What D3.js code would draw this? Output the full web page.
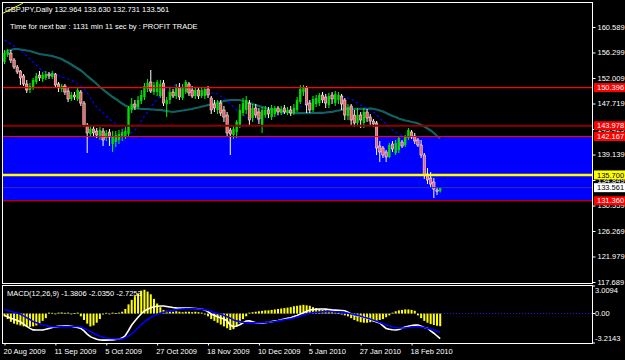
<!DOCTYPE html>
<html>
<head>
<meta charset="utf-8">
<script src="https://cdn.jsdelivr.net/npm/d3@7"></script>
<style>
  html, body { margin: 0; padding: 0; background: #000; }
  svg { display: block; }
  text { font-family: "Liberation Sans", Arial, sans-serif; font-size: 7.5px; fill: #fff; }
</style>
</head>
<body>
<script>
// --- DATA (GBPJPY daily, 20 Aug 2009 .. 3 Mar 2010) ---
const opens = [
  154.70,155.88,156.21,155.04,153.86,153.19,152.35,151.00,149.99,150.33,
  151.34,152.51,151.84,152.01,152.68,152.18,152.68,151.00,150.16,150.66,
  149.82,148.48,149.15,148.48,149.65,147.80,144.10,142.59,143.43,143.09,
  142.08,143.09,141.91,142.92,140.90,141.24,141.58,142.08,142.25,142.59,
  146.63,147.63,147.13,148.14,148.81,150.16,151.34,149.65,149.65,148.98,
  151.17,147.63,148.31,149.65,148.98,150.49,148.64,149.65,151.00,149.99,
  148.98,149.99,148.98,148.98,150.16,148.64,147.63,146.63,147.80,146.63,
  145.78,143.26,142.42,142.92,144.10,146.12,146.63,147.80,145.28,146.96,
  146.29,144.10,145.78,146.63,145.45,145.95,146.96,146.12,146.96,146.12,
  146.63,146.12,146.63,147.97,149.65,150.33,147.80,146.63,147.63,147.80,
  149.15,148.81,147.47,149.15,147.80,148.31,148.98,148.31,145.62,147.30,
  145.78,144.44,145.78,144.44,146.29,145.45,144.77,144.44,140.57,140.23,
  139.56,138.72,140.90,139.39,139.90,141.24,140.74,141.91,142.92,142.25,
  141.58,140.74,139.05,135.86,135.18,134.51,133.17,132.964
];
const highs = [
  156.72,156.89,156.72,155.37,154.20,153.35,152.68,151.67,151.17,152.01,
  152.85,153.19,153.02,153.19,153.02,153.19,152.85,151.34,151.00,151.00,
  150.33,149.65,149.65,150.33,149.99,148.14,144.44,143.93,144.10,143.60,
  143.76,143.60,143.26,143.43,143.09,143.09,143.26,143.43,143.76,147.30,
  148.64,148.31,148.98,149.99,151.17,151.84,153.35,151.34,151.67,151.67,
  151.67,148.81,150.33,150.16,151.00,151.17,151.00,151.67,151.34,150.66,
  150.33,150.49,150.49,150.49,150.66,148.98,148.31,148.31,148.31,147.30,
  146.29,143.60,143.93,144.94,147.63,148.64,148.98,148.31,147.63,147.63,
  146.96,147.13,147.30,147.13,147.47,147.30,147.30,147.30,147.47,147.13,
  147.30,147.63,148.81,150.83,150.83,150.66,148.31,148.98,149.15,149.49,
  149.65,149.32,149.49,149.65,149.82,149.65,149.32,148.64,147.63,147.63,
  146.63,146.96,146.29,146.96,146.79,145.95,145.11,144.77,141.41,140.57,
  139.90,141.07,141.41,141.58,142.25,141.58,142.42,143.60,143.26,142.76,
  141.91,141.58,139.39,136.87,136.19,135.18,133.67,133.630
];
const lows = [
  154.36,155.54,154.53,153.52,152.68,150.83,150.66,149.49,149.49,149.99,
  151.00,151.50,151.34,151.67,151.84,151.84,150.49,149.65,149.65,149.15,
  147.97,148.14,148.31,148.14,147.30,143.76,139.39,142.08,142.25,141.91,
  141.58,140.57,141.41,140.57,139.56,140.40,140.90,141.41,141.75,142.08,
  146.12,146.63,146.79,147.63,148.31,149.65,149.49,149.15,148.98,148.64,
  147.30,145.45,147.63,148.64,148.48,148.31,148.31,149.32,148.98,148.64,
  148.48,148.48,148.64,148.48,148.64,145.95,146.29,145.95,145.62,144.61,
  142.08,139.05,141.75,141.91,143.60,145.62,145.95,144.10,144.61,145.28,
  144.27,142.76,145.28,145.28,144.94,145.45,145.78,145.78,145.95,145.78,
  145.62,145.78,146.29,147.63,148.98,146.12,146.12,146.29,147.13,147.30,
  147.80,146.96,146.96,147.63,147.30,147.63,146.63,144.94,144.94,144.10,
  143.76,143.93,143.60,143.60,144.61,143.93,143.76,139.05,137.88,138.55,
  137.88,138.55,139.56,139.05,139.39,140.23,140.40,141.58,141.75,140.90,
  140.40,138.55,135.02,134.17,133.67,131.82,132.32,132.731
];
const closes = [
  156.21,156.38,155.04,153.86,153.02,152.01,151.00,149.99,150.66,151.67,
  152.35,152.01,152.51,152.68,152.35,152.85,150.83,150.33,150.66,149.65,
  148.48,149.15,148.81,149.99,147.80,144.10,142.76,143.43,142.76,142.42,
  143.26,141.58,142.76,142.08,142.25,142.42,142.59,142.92,143.09,146.96,
  147.63,147.13,148.31,149.15,150.66,151.17,149.82,150.83,151.34,151.00,
  147.80,148.31,149.65,148.98,150.33,148.81,150.33,151.34,149.49,148.98,
  149.99,148.98,149.99,150.16,149.15,146.63,146.96,147.80,146.12,145.45,
  142.76,142.59,143.43,144.61,146.63,147.80,148.31,144.94,146.96,145.78,
  145.11,146.63,146.63,145.95,146.96,146.96,146.29,146.79,146.29,146.63,
  146.12,146.96,148.31,150.16,150.49,147.47,146.63,148.48,148.64,149.15,
  148.31,147.80,148.98,148.48,149.32,149.15,147.63,145.78,147.13,144.94,
  144.44,145.78,144.94,146.29,145.28,144.77,144.27,140.23,139.56,139.05,
  138.72,140.74,140.06,141.07,141.91,140.57,142.08,143.26,142.08,141.41,
  140.74,139.05,135.69,134.85,134.17,133.33,132.96,133.561
];

// slow moving average (solid) and fast moving average (dashed)
const maSlow = [
  156.38,156.55,156.72,156.89,156.89,156.80,156.72,156.63,156.55,156.38,
  156.21,156.05,155.96,155.88,155.79,155.71,155.54,155.37,155.21,154.87,
  154.62,154.28,153.94,153.61,153.27,152.85,152.35,151.92,151.50,151.00,
  150.49,150.07,149.65,149.23,148.81,148.48,148.06,147.72,147.38,147.13,
  146.96,146.88,146.88,146.79,146.79,146.79,146.71,146.71,146.63,146.63,
  146.54,146.46,146.37,146.29,146.37,146.46,146.54,146.63,146.71,146.79,
  146.96,147.04,147.21,147.30,147.47,147.55,147.72,147.89,147.97,148.14,
  148.22,148.31,148.31,148.31,148.31,148.14,147.97,147.80,147.63,147.47,
  147.30,147.13,146.96,146.79,146.71,146.63,146.54,146.46,146.37,146.29,
  146.20,146.12,146.10,146.09,146.09,146.10,146.11,146.12,146.12,146.13,
  146.14,146.20,146.29,146.29,146.46,146.54,146.63,146.79,146.80,146.82,
  146.83,146.83,146.82,146.80,146.79,146.88,146.79,146.71,146.54,146.37,
  146.12,145.87,145.62,145.45,145.20,145.03,144.86,144.77,144.61,144.52,
  144.35,144.10,143.85,143.51,143.18,142.76,142.25,141.83
];
const maFast = [
  158.40,158.07,157.73,157.39,157.06,156.72,156.21,155.71,155.21,154.70,
  154.20,153.69,153.19,153.02,152.85,152.68,152.51,152.35,152.18,152.01,
  151.84,151.67,151.34,151.00,150.66,150.16,149.49,148.64,147.80,147.13,
  146.63,146.12,145.62,145.11,144.61,144.27,143.93,143.60,143.26,142.92,
  142.76,143.26,143.93,144.77,145.62,146.29,147.13,147.80,148.48,149.15,
  149.82,150.16,150.49,150.66,150.83,150.83,150.66,150.33,149.99,149.65,
  149.49,149.32,149.32,149.49,149.49,149.49,149.49,149.32,148.98,148.64,
  148.14,147.63,147.13,146.63,146.12,145.78,145.45,145.28,145.11,144.94,
  144.94,144.94,145.11,145.28,145.45,145.62,145.78,145.95,146.12,146.29,
  146.46,146.63,146.79,147.13,147.47,147.80,148.14,148.31,148.48,148.64,
  148.64,148.81,148.81,148.81,148.98,148.98,148.98,148.81,148.64,148.48,
  148.14,147.80,147.47,147.13,146.96,146.63,146.29,145.78,145.28,144.77,
  144.27,143.76,143.26,142.92,142.59,142.25,141.91,141.75,141.58,141.41,
  141.24,141.07,140.74,140.23,139.73,139.22,138.72,138.21
];

// MACD(12,26,9) sub window
const macdHist = [
  -0.3,-0.6,-0.9,-1.1,-1.2,-1.3,-1.4,-1.45,-1.45,-1.4,-1.3,-1.1,-0.8,-0.5,
  0.1,0.08,-0.06,0.1,0.12,0.08,0.1,-0.05,0.06,0.1,
  -0.3,-0.7,-1.1,-1.4,-1.3,-1.0,-0.6,
  -0.1,0.08,-0.06,0.1,0.05,0.1,
  0.2,0.5,1.0,1.5,1.9,2.2,2.5,2.6,2.4,2.1,1.6,1.1,0.7,0.4,
  0.3,0.25,0.2,0.25,0.2,0.15,0.2,0.2,0.15,0.2,0.15,0.1,
  -0.1,-0.3,-0.6,-0.8,-1.0,-1.2,-1.4,-1.6,-1.8,-1.7,-1.4,-1.0,-0.6,-0.3,
  0.1,0.15,0.2,0.25,0.3,0.35,0.35,0.4,0.45,0.5,0.55,0.6,0.65,0.7,0.8,0.85,0.9,
  0.95,0.9,0.85,0.7,0.6,0.5,0.4,0.35,0.3,0.2,0.1,
  0.05,-0.1,-0.2,
  -0.3,-0.5,-0.7,-0.85,-0.95,-1.0,-1.0,-0.95,-0.9,-0.8,-0.7,-0.6,-0.4,-0.2,
  0.1,0.25,0.35,0.4,0.45,0.45,0.4,0.3,
  -0.2,-0.5,-0.8,-1.0,-1.15,-1.25,-1.33,-1.3806
];
const macdMain = [
  -0.2,-0.35,-0.5,-0.62,-0.76,-0.9,-1.15,-1.4,-1.62,-1.78,
  -1.8,-1.8,-1.79,-1.72,-1.62,-1.53,-1.45,-1.4,-1.36,-1.33,
  -1.33,-1.38,-1.45,-1.52,-1.62,-1.9,-2.25,-2.52,-2.68,-2.8,
  -2.88,-2.9,-2.9,-2.89,-2.88,-2.84,-2.77,-2.68,-2.4,-1.85,
  -1.25,-0.8,-0.4,-0.02,0.28,0.48,0.63,0.74,0.8,0.83,
  0.83,0.78,0.72,0.66,0.62,0.6,0.6,0.61,0.6,0.58,
  0.56,0.53,0.5,0.4,0.2,-0.05,-0.2,-0.35,-0.48,-0.6,
  -0.8,-1.25,-1.43,-1.35,-1.22,-1.0,-0.82,-0.8,-0.9,-1.0,
  -1.03,-1.02,-0.99,-0.95,-0.88,-0.81,-0.75,-0.68,-0.6,-0.52,
  -0.45,-0.33,-0.2,-0.04,0.1,0.25,0.38,0.43,0.47,0.5,
  0.5,0.48,0.44,0.4,0.38,0.36,0.34,0.3,0.15,-0.05,
  -0.18,-0.26,-0.33,-0.4,-0.48,-0.62,-0.78,-0.92,-1.03,-1.35,
  -1.62,-1.72,-1.76,-1.79,-1.74,-1.6,-1.48,-1.38,-1.3,-1.25,
  -1.26,-1.38,-1.52,-1.6,-1.9,-2.15,-2.45,-2.7253
];
const macdSignal = [
  0.45,0.35,0.25,0.15,0.05,-0.08,-0.25,-0.45,-0.65,-0.88,
  -1.0,-1.12,-1.22,-1.3,-1.4,-1.43,-1.44,-1.44,-1.43,-1.43,
  -1.43,-1.42,-1.42,-1.42,-1.45,-1.6,-1.78,-1.95,-2.15,-2.32,
  -2.48,-2.58,-2.66,-2.7,-2.73,-2.76,-2.77,-2.77,-2.65,-2.45,
  -2.2,-1.9,-1.55,-1.2,-0.92,-0.65,-0.42,-0.25,-0.1,0.02,
  0.14,0.2,0.27,0.35,0.42,0.47,0.5,0.52,0.52,0.52,
  0.51,0.5,0.48,0.43,0.35,0.25,0.12,0.02,-0.08,-0.2,
  -0.35,-0.5,-0.7,-0.8,-0.88,-0.95,-1.0,-1.02,-1.02,-1.01,
  -1.0,-0.98,-0.96,-0.93,-0.9,-0.86,-0.8,-0.74,-0.68,-0.62,
  -0.58,-0.48,-0.38,-0.28,-0.15,-0.06,0.03,0.1,0.13,0.16,
  0.18,0.19,0.2,0.2,0.19,0.16,0.13,0.1,0.04,-0.04,
  -0.12,-0.2,-0.3,-0.4,-0.48,-0.6,-0.72,-0.85,-0.98,-1.1,
  -1.22,-1.33,-1.43,-1.52,-1.57,-1.58,-1.56,-1.52,-1.48,-1.44,
  -1.43,-1.46,-1.53,-1.62,-1.7,-1.8,-1.92,-2.035
];

// axes
const priceTicks = [117.689,121.979,126.269,130.559,134.849,139.139,143.429,147.719,152.009,156.299,160.589];
const macdTicks = [3.0094, 0, -3.2143];
const macdTickLabels = ["3.0094", "0.00", "-3.2143"];
const dateTickBars = [0, 16, 32, 48, 64, 80, 96, 112, 128];
const dateTickLabels = ["20 Aug 2009","11 Sep 2009","5 Oct 2009","27 Oct 2009","18 Nov 2009",
                        "10 Dec 2009","5 Jan 2010","27 Jan 2010","18 Feb 2010"];

// objects on the chart
const resistLine = 150.396;
const pivotLine = 143.978;
const zoneTop = 142.167;
const zoneBottom = 131.360;
const targetLine = 135.700;
const bidPrice = 133.561;
const trendPts = [[-0.5, 162.9], [5.8, 164.6]];   // [bar, price]

const titleText = "GBPJPY,Daily  132.964 133.630 132.731 133.561";
const timerText = "Time for next bar : 1131 min 11 sec by  : PROFIT TRADE";
const macdText = "MACD(12,26,9) -1.3806 -2.0350 -2.7253";

// --- LAYOUT ---
const W = 625, H = 360;
const main = { left: 3, right: 592, top: 3, bottom: 283 };
const sub = { top: 286, bottom: 343 };

const svg = d3.select("body").append("svg")
  .attr("width", W).attr("height", H)
  .style("background", "#000");

const x = d3.scaleLinear().domain([0, closes.length - 1]).range([4.5, 440.2]);
const y = d3.scaleLinear().domain([priceTicks[0], priceTicks[priceTicks.length - 1]]).range([282, 27]);
const ym = d3.scaleLinear().domain([macdTicks[2], macdTicks[0]]).range([sub.bottom, sub.top]);

const defs = svg.append("defs");
defs.append("clipPath").attr("id", "clipMain").append("rect")
  .attr("x", main.left).attr("y", main.top)
  .attr("width", main.right - main.left).attr("height", main.bottom - main.top);
defs.append("clipPath").attr("id", "clipSub").append("rect")
  .attr("x", main.left).attr("y", sub.top)
  .attr("width", main.right - main.left).attr("height", sub.bottom - sub.top);

const g = svg.append("g").attr("clip-path", "url(#clipMain)");

// zone rectangle (background object)
g.append("rect")
  .attr("x", main.left).attr("width", main.right - main.left)
  .attr("y", y(zoneTop)).attr("height", y(zoneBottom) - y(zoneTop))
  .attr("fill", "#0000ff");

// moving averages
const line = d3.line().x((d, i) => x(i)).y(d => y(d));
g.append("path").datum(maFast).attr("d", line)
  .attr("fill", "none").attr("stroke", "#0000ff").attr("stroke-width", 1.3)
  .attr("stroke-dasharray", "2.5,2.5");
g.append("path").datum(maSlow).attr("d", line)
  .attr("fill", "none").attr("stroke", "#0b6e45").attr("stroke-width", 2.2);
g.append("path").datum(maSlow).attr("d", line)
  .attr("fill", "none").attr("stroke", "#1c3ad8").attr("stroke-width", 1)
  .attr("stroke-dasharray", "1.5,1.5");

// candles
const bw = 2.4;
const candles = g.append("g").selectAll("g").data(closes).join("g");
candles.append("line")
  .attr("x1", (d, i) => x(i)).attr("x2", (d, i) => x(i))
  .attr("y1", (d, i) => y(highs[i])).attr("y2", (d, i) => y(lows[i]))
  .attr("stroke", (d, i) => d >= opens[i] ? "#00ff00" : "#ffffff")
  .attr("stroke-width", 1);
candles.append("rect")
  .attr("x", (d, i) => x(i) - bw / 2)
  .attr("width", bw)
  .attr("y", (d, i) => y(Math.max(d, opens[i])))
  .attr("height", (d, i) => Math.max(1, Math.abs(y(d) - y(opens[i]))))
  .attr("fill", (d, i) => d >= opens[i] ? "#00dd00" : "#ee6464")
  .attr("stroke", (d, i) => d >= opens[i] ? "none" : "#ffffff")
  .attr("stroke-width", 0.5);

// horizontal lines
g.append("line").attr("x1", main.left).attr("x2", main.right)
  .attr("y1", y(resistLine)).attr("y2", y(resistLine))
  .attr("stroke", "#ff0000").attr("stroke-width", 1.2);
g.append("line").attr("x1", main.left).attr("x2", main.right)
  .attr("y1", y(pivotLine)).attr("y2", y(pivotLine))
  .attr("stroke", "#8b0000").attr("stroke-width", 2.2);
g.append("line").attr("x1", main.left).attr("x2", main.right)
  .attr("y1", y(zoneTop)).attr("y2", y(zoneTop))
  .attr("stroke", "#ff0000").attr("stroke-width", 1.2);
g.append("line").attr("x1", main.left).attr("x2", main.right)
  .attr("y1", y(zoneBottom)).attr("y2", y(zoneBottom))
  .attr("stroke", "#b00000").attr("stroke-width", 1.6);
g.append("line").attr("x1", main.left).attr("x2", main.right)
  .attr("y1", y(targetLine)).attr("y2", y(targetLine))
  .attr("stroke", "#ffff00").attr("stroke-width", 2.4);
g.append("line").attr("x1", main.left).attr("x2", main.right)
  .attr("y1", y(bidPrice)).attr("y2", y(bidPrice))
  .attr("stroke", "#3030a8").attr("stroke-width", 1);

// trend line
g.append("line")
  .attr("x1", x(trendPts[0][0])).attr("y1", y(trendPts[0][1]))
  .attr("x2", x(trendPts[1][0])).attr("y2", y(trendPts[1][1]))
  .attr("stroke", "#ffff00").attr("stroke-width", 1);

// title texts
svg.append("text").attr("x", 5).attr("y", 12).text(titleText);
svg.append("text").attr("x", 10).attr("y", 29).text(timerText);

// --- MACD WINDOW ---
const gs = svg.append("g").attr("clip-path", "url(#clipSub)");
gs.append("line").attr("x1", main.left).attr("x2", main.right)
  .attr("y1", ym(0)).attr("y2", ym(0))
  .attr("stroke", "#1a1aff").attr("stroke-width", 1).attr("stroke-dasharray", "1,2");
gs.selectAll("rect.h").data(macdHist).join("rect").attr("class", "h")
  .attr("x", (d, i) => x(i) - 1)
  .attr("width", 2)
  .attr("y", d => ym(Math.max(0, d)))
  .attr("height", d => Math.max(0.8, Math.abs(ym(d) - ym(0))))
  .attr("fill", "#ffff00");
const mline = d3.line().x((d, i) => x(i)).y(d => ym(d));
gs.append("path").datum(macdMain).attr("d", mline)
  .attr("fill", "none").attr("stroke", "#ffffff").attr("stroke-width", 1.6);
gs.append("path").datum(macdSignal).attr("d", mline)
  .attr("fill", "none").attr("stroke", "#0000ff").attr("stroke-width", 1.6);
svg.append("text").attr("x", 7).attr("y", 296).text(macdText);

// frames
svg.append("rect")
  .attr("x", main.left - 0.5).attr("y", main.top - 0.5)
  .attr("width", main.right - main.left + 1).attr("height", main.bottom - main.top + 1)
  .attr("fill", "none").attr("stroke", "#ffffff").attr("stroke-width", 1);
svg.append("rect")
  .attr("x", main.left - 0.5).attr("y", sub.top - 0.5)
  .attr("width", main.right - main.left + 1).attr("height", sub.bottom - sub.top + 1)
  .attr("fill", "none").attr("stroke", "#ffffff").attr("stroke-width", 1);

// price axis
const yAxis = svg.append("g").attr("transform", `translate(${main.right + 0.5},0)`)
  .call(d3.axisRight(y).tickValues(priceTicks).tickSize(3).tickPadding(2)
    .tickFormat(d3.format(".3f")));
yAxis.select(".domain").remove();
yAxis.selectAll("line").attr("stroke", "#fff");
yAxis.selectAll("text").attr("fill", "#fff")
  .style("font-family", "Liberation Sans, Arial, sans-serif").style("font-size", "7.5px");

// macd axis labels
const mAxis = svg.append("g");
mAxis.selectAll("line").data(macdTicks).join("line")
  .attr("x1", main.right + 0.5).attr("x2", main.right + 3)
  .attr("y1", d => ym(d)).attr("y2", d => ym(d)).attr("stroke", "#fff");
mAxis.selectAll("text").data(macdTicks).join("text")
  .attr("x", main.right + 3)
  .attr("y", d => ym(d))
  .attr("dy", (d, i) => i === 0 ? "0.95em" : (i === 2 ? "-0.25em" : "0.35em"))
  .text((d, i) => macdTickLabels[i]);

// price label boxes
const boxes = [
  { v: resistLine, bg: "#ff0000", fg: "#ffffff" },
  { v: pivotLine, bg: "#ff0000", fg: "#ffffff" },
  { v: zoneTop, bg: "#ff0000", fg: "#ffffff" },
  { v: targetLine, bg: "#ffff00", fg: "#000000" },
  { v: bidPrice, bg: "#ffffff", fg: "#000000" },
  { v: zoneBottom, bg: "#ff0000", fg: "#ffffff" }
];
const bx = svg.append("g").selectAll("g").data(boxes).join("g");
bx.append("rect").attr("x", main.right + 2).attr("width", W - main.right - 2)
  .attr("y", d => y(d.v) - 4.5).attr("height", 9).attr("fill", d => d.bg);
bx.append("text").attr("x", main.right + 5).attr("y", d => y(d.v)).attr("dy", "0.35em")
  .style("fill", d => d.fg).text(d => d3.format(".3f")(d.v));

// date axis
const xAxis = svg.append("g").attr("transform", `translate(0,${sub.bottom + 0.5})`)
  .call(d3.axisBottom(x).tickValues(dateTickBars).tickSize(2).tickPadding(3)
    .tickFormat((d, i) => dateTickLabels[i]));
xAxis.select(".domain").remove();
xAxis.selectAll("line").attr("stroke", "#fff");
xAxis.selectAll("text").attr("fill", "#fff").attr("text-anchor", "start").attr("dx", "-1.5")
  .style("font-family", "Liberation Sans, Arial, sans-serif").style("font-size", "7.5px");
</script>
</body>
</html>
